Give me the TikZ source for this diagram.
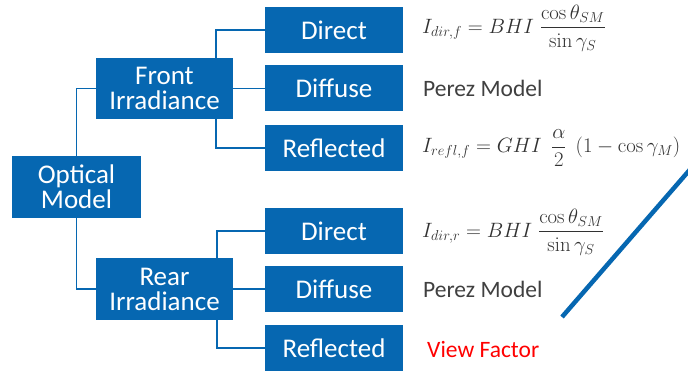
\documentclass[tikz,border=0pt]{standalone}
\usepackage{amsmath}
\usepackage[no-math]{fontspec}
\setmainfont{Carlito}
\definecolor{boxblue}{RGB}{6,103,177}
\definecolor{txtgray}{RGB}{64,64,64}
\definecolor{mathgray}{RGB}{50,50,50}
\definecolor{vfred}{RGB}{255,0,0}
\begin{document}
\begin{tikzpicture}[x=1pt,y=-1pt,
  bluebox/.style={fill=boxblue,text=white,inner sep=0pt,align=center,
    font=\fontsize{27}{25}\selectfont},
  bigbox/.style={bluebox,minimum width=137pt,minimum height=61pt},
  leafbox/.style={bluebox,minimum width=138pt,minimum height=46pt},
  conn/.style={draw=boxblue,line width=1.3pt},
  plain/.style={text=txtgray,inner sep=0pt,anchor=base west,font=\fontsize{23.5}{28}\selectfont},
  formula/.style={text=mathgray,inner sep=0pt,anchor=west,font=\fontsize{20}{24}\selectfont}]
\useasboundingbox (0,0) rectangle (688,371);
\fill[white] (0,0) rectangle (688,371);
% main boxes
\node[bluebox,minimum width=129pt,minimum height=62pt] (opt) at (76.5,187) {Optical\\Model};
\node[bigbox] (front) at (164.5,88.5) {Front\\Irradiance};
\node[bigbox,minimum height=62pt] (rear) at (164.5,289) {Rear\\Irradiance};
% leaves
\node[leafbox] (fdir) at (334,30) {Direct};
\node[leafbox] (fdif) at (334,88.5) {Diffuse};
\node[leafbox] (fref) at (334,148) {Reflected};
\node[leafbox] (rdir) at (334,231) {Direct};
\node[leafbox] (rdif) at (334,289) {Diffuse};
\node[leafbox] (rref) at (334,348) {Reflected};
% connectors
\draw[conn] (opt.north) |- (front.west);
\draw[conn] (opt.south) |- (rear.west);
\draw[conn] ([xshift=51.5pt]front.north) |- (fdir.west);
\draw[conn] (front.east) -- (fdif.west);
\draw[conn] ([xshift=51.5pt]front.south) |- (fref.west);
\draw[conn] ([xshift=52.5pt]rear.north) |- (rdir.west);
\draw[conn] (rear.east) -- (rdif.west);
\draw[conn] ([xshift=52.5pt]rear.south) |- (rref.west);
% texts
\node[formula] (ffd) at (422,28) {$\displaystyle I_{dir,f} = BHI\;\frac{\cos\theta_{SM}}{\sin\gamma_S}$};
\node[plain] (ffp) at (423,97) {Perez Model};
\node[formula,font=\fontsize{21}{25}\selectfont] (ffr) at (422,148) {$\displaystyle I_{refl,f} = GHI\;\,\frac{\alpha}{2}\;\,(1-\cos\gamma_M)$};
\node[formula] (rfd) at (422,232) {$\displaystyle I_{dir,r} = BHI\;\frac{\cos\theta_{SM}}{\sin\gamma_S}$};
\node[plain] (rfp) at (423,298) {Perez Model};
\node[plain,text=vfred] (rvf) at (427,357) {View Factor};
% diagonal line
\begin{scope}
\clip (0,0) rectangle (688,371);
\coordinate (dA) at (562,317);
\coordinate (dB) at (700,158);
\draw[draw=boxblue,line width=4.5pt] (dA) -- (dB);
\end{scope}
\end{tikzpicture}
\end{document}
